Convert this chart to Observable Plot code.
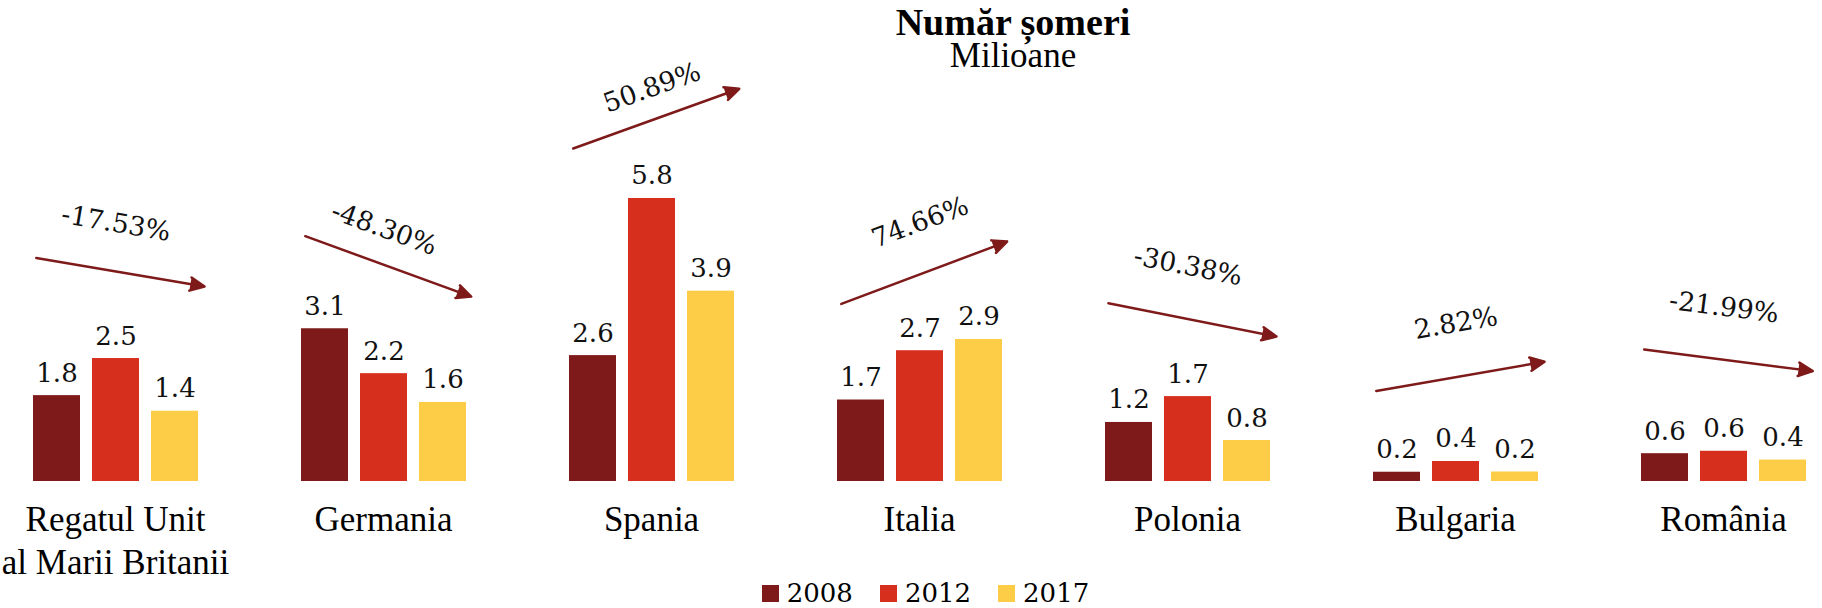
<!DOCTYPE html>
<html><head><meta charset="utf-8">
<script src="https://cdn.jsdelivr.net/npm/d3@7"></script>
<script src="https://cdn.jsdelivr.net/npm/@observablehq/plot@0.6"></script>
<style>
html,body{margin:0;padding:0;background:#fff;}
#wrap{position:relative;width:1822px;height:608px;overflow:hidden;background:#fff;}
#chart{position:absolute;left:0;top:0;}
.ttl{position:absolute;text-align:center;font-family:"Liberation Serif",serif;color:#000;white-space:nowrap;}
#t1{left:863px;width:300px;top:5px;font-size:38px;font-weight:bold;line-height:34px;}
#t2{left:913px;width:200px;top:43px;font-size:35px;line-height:26px;}
#legend{position:absolute;left:0;width:1851px;top:578px;height:30px;display:flex;justify-content:center;align-items:center;font-family:"DejaVu Serif",serif;font-size:26px;line-height:30px;color:#000;}
#legend .sw{width:17px;height:17px;margin-right:8px;}
#legend .lab{margin-right:27px;}
#legend .lab:last-child{margin-right:0;}
</style>
</head><body>
<div id="wrap">
  <div id="chart"></div>
  <div class="ttl" id="t1">Număr șomeri</div>
  <div class="ttl" id="t2">Milioane</div>
  <div id="legend"></div>
</div>
<script>
// ---- data ----
const countries = ["Regatul Unit al Marii Britanii","Germania","Spania","Italia","Polonia","Bulgaria","România"];
const countryLabels = ["Regatul Unit\nal Marii Britanii","Germania","Spania","Italia","Polonia","Bulgaria","România"];
const years = ["2008","2012","2017"];
const v2008 = [1.76, 3.13, 2.58, 1.67, 1.21, 0.19, 0.57];
const v2012 = [2.52, 2.21, 5.80, 2.68, 1.74, 0.41, 0.62];
const v2017 = [1.44, 1.62, 3.90, 2.91, 0.84, 0.195, 0.44];
const changeLabels = ["-17.53%","-48.30%","50.89%","74.66%","-30.38%","2.82%","-21.99%"];
// annotation arrow levels (millions) at the 2008 and 2017 bar centres, and label level
const arrowFrom = [4.51, 4.88, 6.97, 3.79, 3.57, 1.93, 2.65];
const arrowTo   = [4.10, 4.00, 7.84, 4.70, 3.09, 2.35, 2.34];
const labelLevel = [5.29, 5.18, 8.07, 5.31, 4.41, 3.24, 3.57];
const colors = ["#7f1a1a", "#d62f1e", "#fecd47"];
const arrowColor = "#7f1a1a";

// ---- layout ----
const W = 1822, H = 608, ML = 32, MR = 16, MT = 0, MB = 127;
const YMAX = 9.857;
const fxPadInner = 0.3806, xPadInner = 0.21;
const fxStep = (W - ML - MR) / (countries.length - fxPadInner);
const fxBand = fxStep * (1 - fxPadInner);
const xStep = fxBand / (years.length - xPadInner);
const pxPerUnit = (H - MT - MB) / YMAX;

const bars = [];
const series = [v2008, v2012, v2017];
countries.forEach((c, i) => years.forEach((y, j) => bars.push({country: c, year: y, value: series[j][i]})));

const notes = countries.map((c, i) => ({
  country: c,
  from: arrowFrom[i], to: arrowTo[i], level: labelLevel[i], text: changeLabels[i],
  angle: Math.atan2((arrowFrom[i] - arrowTo[i]) * pxPerUnit, 2 * xStep) * 180 / Math.PI
}));
const labels = countries.map((c, i) => ({country: c, label: countryLabels[i]}));

const chart = Plot.plot({
  width: W, height: H,
  marginLeft: ML, marginRight: MR, marginTop: MT, marginBottom: MB,
  style: {background: "transparent"},
  fx: {domain: countries, paddingInner: fxPadInner, paddingOuter: 0, axis: null, label: null},
  x: {domain: years, paddingInner: xPadInner, paddingOuter: 0, axis: null, label: null},
  y: {domain: [0, YMAX], axis: null, label: null},
  color: {domain: years, range: colors},
  marks: [
    Plot.barY(bars, {fx: "country", x: "year", y: "value", fill: "year"}),
    Plot.text(bars, {fx: "country", x: "year", y: "value", text: d => d.value.toFixed(1),
      lineAnchor: "bottom", dy: -14, fontFamily: "DejaVu Serif", fontSize: 26, fill: "#111"}),
    Plot.arrow(notes, {fx: "country", x1: () => "2008", x2: () => "2017", y1: "from", y2: "to",
      stroke: arrowColor, fill: arrowColor, strokeWidth: 2.5, headLength: 9.5, headAngle: 50,
      insetStart: -21, insetEnd: -30, strokeLinejoin: "round"}),
    Plot.text(notes, {fx: "country", x: () => "2012", y: "level", text: "text", rotate: "angle",
      lineAnchor: "middle", fontFamily: "DejaVu Serif", fontSize: 26.5, fill: "#111"}),
    Plot.text(labels, {fx: "country", text: "label", frameAnchor: "bottom", lineAnchor: "top",
      dy: 19, lineHeight: 1.229, fontFamily: "Liberation Serif", fontSize: 35, fill: "#000"})
  ]
});
document.getElementById("chart").append(chart);

const legend = document.getElementById("legend");
years.forEach((y, j) => {
  const sw = document.createElement("span");
  sw.className = "sw"; sw.style.background = colors[j];
  const lb = document.createElement("span");
  lb.className = "lab"; lb.textContent = y;
  legend.append(sw, lb);
});
</script>
</body></html>
